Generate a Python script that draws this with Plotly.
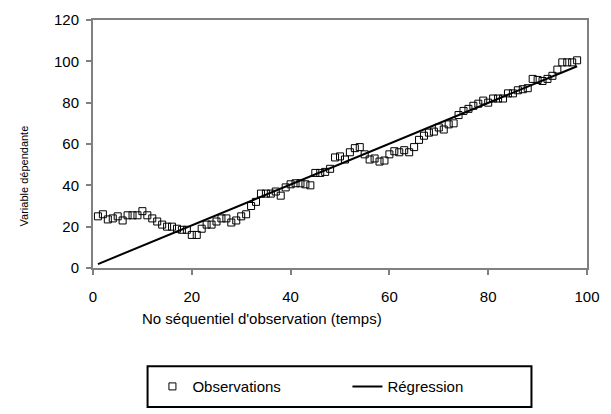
import plotly.graph_objects as go

# --- data ---
obs_x = list(range(1, 99))
obs_y = [25, 26, 23.5, 24, 25, 23, 25.5, 25.5, 25.5, 27.5,
         25.5, 24, 22.5, 21, 20, 20, 19, 18.5, 18.5, 16,
         16, 19, 21, 21, 22.5, 24, 24, 22, 23, 25,
         26, 30, 32, 36, 36, 36, 37, 35, 39, 40.5,
         41, 41, 40.5, 40, 46, 46, 46.5, 48, 53.5, 54,
         52.5, 56, 58, 58.5, 55, 52.5, 53, 51.5, 52, 55,
         56.5, 56, 57, 56, 58.5, 62, 64, 65.5, 66, 68,
         67, 69.5, 70, 74, 76, 77, 78.5, 79.5, 81, 80,
         82, 82, 82, 84.5, 84.5, 86, 86.5, 87, 91.5, 91,
         90.5, 91.5, 93, 96, 99.5, 99.5, 99.5, 100.5]
reg_intercept = 0.9
reg_slope = 0.987
reg_x = [1, 98]
reg_y = [reg_intercept + reg_slope * v for v in reg_x]

x_ticks = [0, 20, 40, 60, 80, 100]
y_ticks = [0, 20, 40, 60, 80, 100, 120]

FONT = "Liberation Sans, Arial, sans-serif"
GRAY = "#808080"

fig = go.Figure()
fig.add_trace(go.Scatter(
    x=obs_x, y=obs_y, mode="markers", name="Observations",
    marker=dict(symbol="square-open", size=7, color="black",
                line=dict(width=1, color="black")),
))
fig.add_trace(go.Scatter(
    x=reg_x, y=reg_y, mode="lines", name="Régression",
    line=dict(color="black", width=2),
))

W, H = 611, 414
ml, mr, mt, mb = 93, 11, 15, 144
pw = W - ml - mr
ph = H - mt - mb

def px2x(p):
    return (p - ml) / pw

def py2y(p):
    return (H - mb - p) / ph

fig.update_layout(
    width=W, height=H,
    margin=dict(l=ml, r=mr, t=mt, b=mb, pad=0),
    paper_bgcolor="white", plot_bgcolor="white",
    font=dict(family=FONT, size=15, color="black"),
    showlegend=True,
    legend=dict(
        orientation="h",
        x=px2x(154), xanchor="left",
        y=py2y(392), yanchor="middle",
        bgcolor="rgba(0,0,0,0)", borderwidth=0,
        entrywidth=150, entrywidthmode="pixels",
        font=dict(family=FONT, size=15, color="black"),
    ),
    xaxis=dict(
        range=[0, 100], tickvals=x_ticks, ticktext=[str(v) for v in x_ticks],
        showgrid=False, zeroline=False,
        showline=True, linecolor=GRAY, linewidth=2, mirror=True,
        ticks="outside", ticklen=5, tickwidth=2, tickcolor=GRAY,
        ticklabelstandoff=9,
        tickfont=dict(family=FONT, size=15, color="black"),
    ),
    yaxis=dict(
        range=[0, 120], tickvals=y_ticks, ticktext=[str(v) for v in y_ticks],
        showgrid=False, zeroline=False,
        showline=True, linecolor=GRAY, linewidth=2, mirror=True,
        ticks="outside", ticklen=5, tickwidth=2, tickcolor=GRAY,
        ticklabelstandoff=4,
        tickfont=dict(family=FONT, size=15, color="black"),
    ),
    shapes=[dict(
        type="rect", xref="paper", yref="paper",
        x0=px2x(149), x1=px2x(543), y0=py2y(371), y1=py2y(413),
        line=dict(color="black", width=2), fillcolor="rgba(0,0,0,0)",
        layer="above",
    )],
    annotations=[
        dict(text="No séquentiel d'observation (temps)", xref="paper", yref="paper",
             x=px2x(266), y=py2y(322), xanchor="center", yanchor="middle",
             showarrow=False, font=dict(family=FONT, size=15, color="black")),
        dict(text="Variable dépendante", xref="paper", yref="paper",
             x=px2x(22), y=py2y(175), xanchor="center", yanchor="middle",
             textangle=-90, showarrow=False,
             font=dict(family=FONT, size=11, color="black")),
    ],
)

fig.write_html("out.html")
